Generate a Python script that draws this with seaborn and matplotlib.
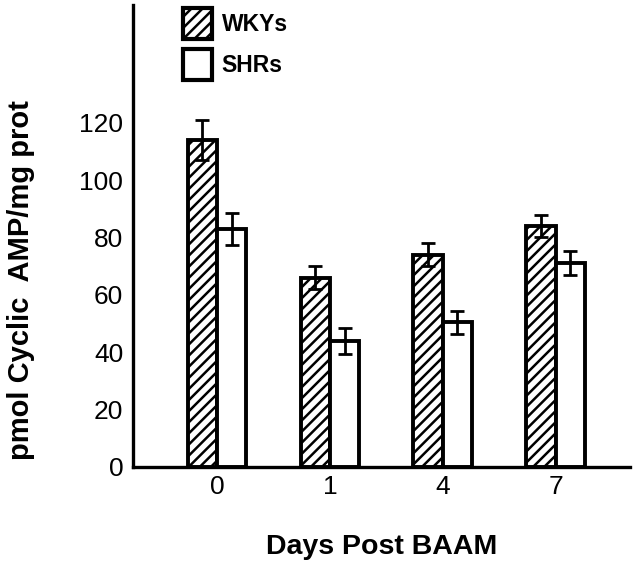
import matplotlib
matplotlib.use("Agg")
import matplotlib.pyplot as plt
from matplotlib.patches import Patch
import numpy as np
import pandas as pd
import seaborn as sns

# cAMP content (mean ± SEM) after BAAM treatment
days = ["0", "1", "4", "7"]
groups = ["WKYs", "SHRs"]
wky_mean = [114, 66, 74, 84]
shr_mean = [83, 44, 50.5, 71]
wky_sem = [7, 4, 4, 3.8]
shr_sem = [5.5, 4.5, 4, 4.2]
y_ticks = [0, 20, 40, 60, 80, 100, 120]

sns.set_style("white")
plt.rcParams["font.family"] = ["Liberation Sans", "DejaVu Sans"]
plt.rcParams["hatch.linewidth"] = 1.8
plt.rcParams["hatch.color"] = "black"
for key in ["text.color", "axes.labelcolor", "xtick.color", "ytick.color",
            "axes.edgecolor"]:
    plt.rcParams[key] = "black"

df = pd.DataFrame({
    "day": days * 2,
    "group": [groups[0]] * len(days) + [groups[1]] * len(days),
    "value": wky_mean + shr_mean,
    "sem": wky_sem + shr_sem,
})

fig = plt.figure(figsize=(6.33, 5.65), dpi=100)
ax = fig.add_axes([133 / 633, 1 - 467 / 565, (630 - 133) / 633, (467 - 5) / 565])

sns.barplot(data=df, x="day", y="value", hue="group", order=days,
            hue_order=groups, palette=["white", "white"], edgecolor="black",
            linewidth=2.8, width=0.52, errorbar=None, legend=False, ax=ax)

# hatch the WKY bars
for bar in ax.containers[0]:
    bar.set_hatch("///")

# error bars at each bar's centre
for cont, sems in zip(ax.containers, [wky_sem, shr_sem]):
    xs = [b.get_x() + b.get_width() / 2 for b in cont]
    ys = [b.get_height() for b in cont]
    ax.errorbar(xs, ys, yerr=sems, fmt="none", ecolor="black",
                elinewidth=2.0, capsize=4.8, capthick=2.0, zorder=5)

ax.set_xlim(-0.745, 3.66)
ax.set_ylim(0, 161)
ax.set_yticks(y_ticks)
ax.set_yticklabels([str(t) for t in y_ticks])

for side in ["top", "right"]:
    ax.spines[side].set_visible(False)
for side in ["left", "bottom"]:
    ax.spines[side].set_linewidth(2.4)
    ax.spines[side].set_color("black")

ax.tick_params(axis="y", direction="in", length=16, width=2, pad=7,
               labelsize=19, colors="black")
ax.tick_params(axis="x", length=0, pad=6, labelsize=19, colors="black")

ax.set_xlabel("Days Post BAAM", fontsize=20.5, fontweight="bold", labelpad=25)
ax.set_ylabel("pmol Cyclic  AMP/mg prot", fontsize=21, fontweight="bold")
ax.yaxis.set_label_coords(-0.197, 0.405)

handles = [
    Patch(facecolor="white", edgecolor="black", hatch="///", linewidth=3.0),
    Patch(facecolor="white", edgecolor="black", linewidth=3.0),
]
ax.legend(handles, groups, loc="upper left", bbox_to_anchor=(0.10, 0.994),
          frameon=False, borderpad=0, borderaxespad=0,
          prop={"weight": "bold", "size": 16.5},
          handlelength=1.3, handleheight=1.7, handletextpad=0.4,
          labelspacing=0.45)

fig.savefig("out.png", dpi=100)
